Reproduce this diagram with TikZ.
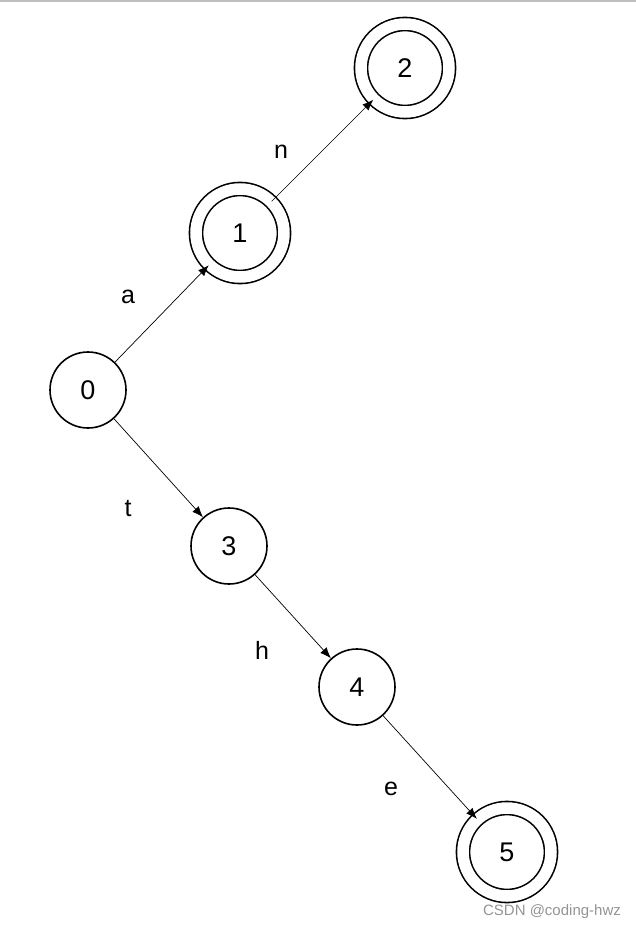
\documentclass[tikz,border=0pt]{standalone}
\usepackage{fontspec}
\setmainfont{Liberation Sans}
\usetikzlibrary{arrows.meta}
\begin{document}
\begin{tikzpicture}[x=1pt,y=-1pt,
  state/.style={circle,draw,line width=1.6pt,minimum size=76pt,inner sep=0pt,font=\fontsize{27}{27}\selectfont},
  accept/.style={state,double,double distance=11.5pt,line width=1.6pt,minimum size=88pt},
  edge/.style={line width=0.7pt,-{Latex[length=11pt,width=8.5pt]}},
  lbl/.style={font=\fontsize{25}{25}\selectfont}]
\useasboundingbox (0,0) rectangle (636,931);
\draw[line width=2pt,color=black!25] (0,1) -- (636,1);
\node[state] (s0) at (88,390) {0};
\node[accept] (s1) at (240,233) {1};
\node[accept] (s2) at (405,68) {2};
\node[state] (s3) at (229,546) {3};
\node[state] (s4) at (357,687) {4};
\node[accept] (s5) at (507,852) {5};
\draw[edge] (s0) -- (s1);
\draw[edge] (s1) -- (s2);
\draw[edge] (s0) -- (s3);
\draw[edge] (s3) -- (s4);
\draw[edge] (s4) -- (s5);
\node[lbl] (la) at (128,297) {a};
\node[lbl] (ln) at (281,152) {n};
\node[lbl] (lt) at (128,509) {t};
\node[lbl] (lh) at (262,650) {h};
\node[lbl] (le) at (391,789) {e};
\node[font=\fontsize{15}{15}\selectfont,text=black!42] (wm) at (552,912) {CSDN @coding-hwz};
\end{tikzpicture}
\end{document}
